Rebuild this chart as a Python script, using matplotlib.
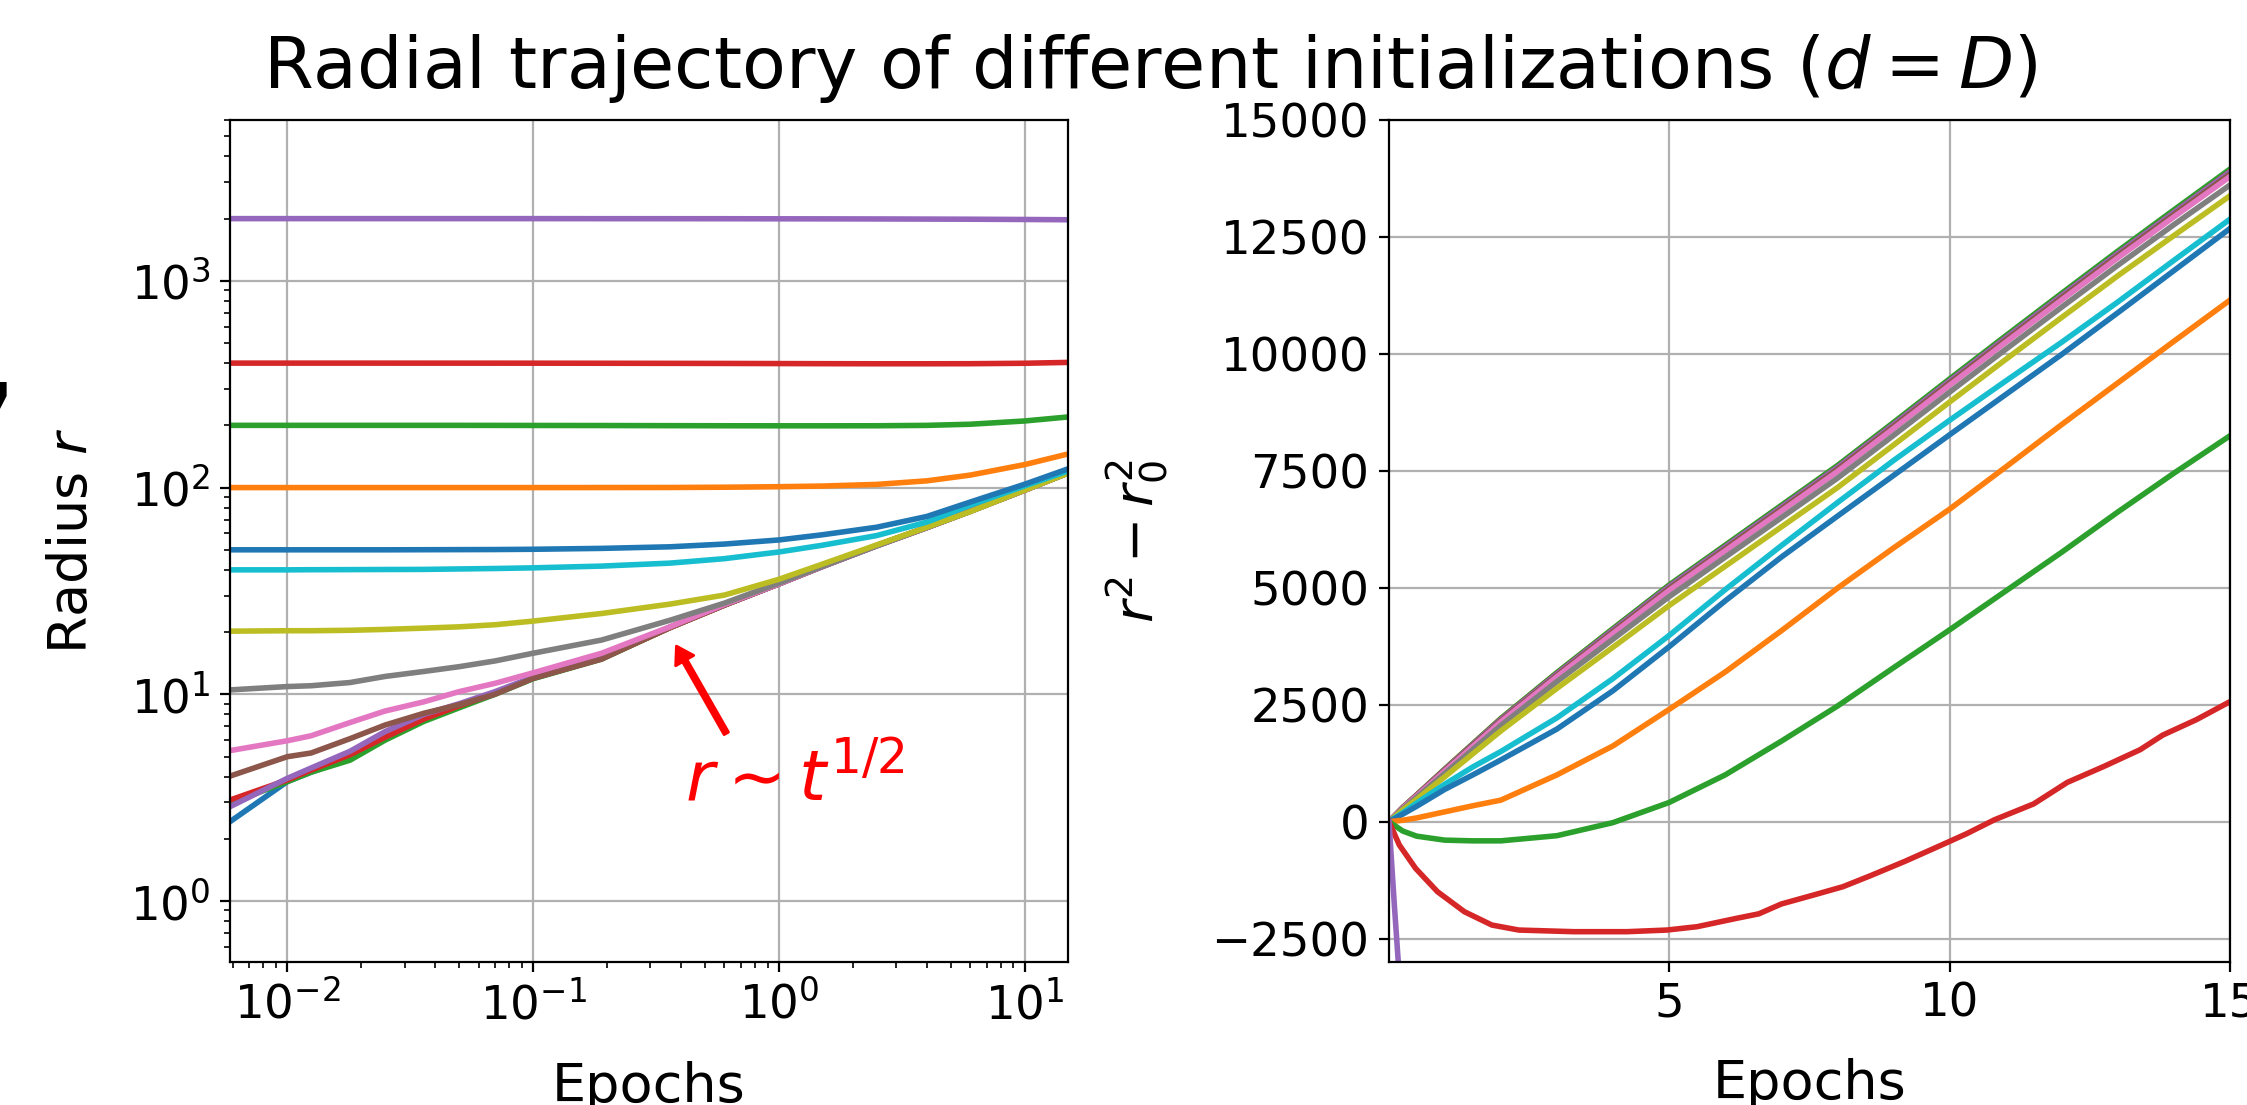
import matplotlib
matplotlib.use("Agg")
import matplotlib.pyplot as plt

# ---------------- data ----------------
# Left panel: radius r vs epochs (log-log)
t_log = [0.00585, 0.01, 0.0125, 0.018, 0.025, 0.036, 0.05, 0.07, 0.1, 0.19,
         0.36, 0.6, 1.0, 1.5, 2.5, 4.0, 6.0, 10.0, 15.0]

r_c0_small = [2.42, 3.78, 4.2, 4.9, 6.1, 7.7, 8.8, 10.1, 11.95, 14.9, 21.0, 27.0, 34.2, 41.5, 52.4, 64.1, 76.9, 97.2, 117.8]
r_c1_small = [3.02, 3.83, 4.3, 5.1, 6.2, 7.6, 8.8, 10.1, 12.0, 14.9, 21.0, 27.0, 34.3, 41.6, 52.5, 64.2, 77.0, 97.3, 118.0]
r_c2_small = [2.97, 3.78, 4.2, 4.8, 6.0, 7.4, 8.6, 10.0, 11.9, 14.8, 21.0, 27.0, 34.3, 41.6, 52.5, 64.2, 77.0, 97.4, 118.1]
r_c3_small = [3.08, 3.85, 4.3, 5.1, 6.2, 7.6, 8.8, 10.1, 12.0, 14.9, 21.0, 27.0, 34.2, 41.5, 52.4, 64.1, 76.9, 97.2, 117.9]
r_c4_small = [2.86, 3.92, 4.4, 5.3, 6.6, 8.0, 9.0, 10.3, 12.1, 15.0, 21.1, 27.1, 34.2, 41.5, 52.4, 64.1, 76.9, 97.2, 117.9]
r_brown = [4.02, 4.99, 5.2, 6.1, 7.1, 8.1, 8.9, 10.0, 11.95, 14.8, 21.1, 27.1, 34.2, 41.5, 52.4, 64.1, 76.9, 97.2, 117.8]
r_pink = [5.34, 5.96, 6.3, 7.3, 8.3, 9.2, 10.3, 11.3, 12.7, 15.8, 21.2, 27.2, 34.2, 41.4, 52.3, 64.0, 76.8, 97.1, 117.7]
r_gray = [10.5, 10.9, 11.0, 11.4, 12.2, 12.9, 13.6, 14.5, 15.8, 18.3, 22.8, 27.6, 34.5, 41.5, 52.2, 64.0, 76.6, 97.4, 117.5]
r_olive = [20.2, 20.3, 20.3, 20.4, 20.6, 20.9, 21.2, 21.7, 22.6, 24.6, 27.3, 30.2, 36.0, 42.6, 52.8, 64.3, 76.5, 97.2, 117.4]
r_cyan = [40.0, 40.0, 40.05, 40.1, 40.15, 40.2, 40.4, 40.6, 40.9, 41.7, 43.1, 45.3, 48.8, 52.6, 58.6, 68.1, 82.2, 101.9, 120.3]
r_c10_50 = [50.0, 50.0, 50.0, 50.0, 50.0, 50.05, 50.1, 50.15, 50.3, 50.8, 51.7, 53.3, 55.8, 59.1, 64.3, 72.5, 85.1, 103.8, 123.2]
r_c11_100 = [100, 100, 100, 100, 100, 100, 100, 100, 100.0, 100.05, 100.1, 100.4, 101.0, 101.7, 103.6, 107.8, 114.9, 129.2, 145.4]
r_c12_200 = [200, 200, 200, 200, 200, 200, 200, 199.9, 199.75, 199.6, 199.3, 199.1, 199.0, 198.96, 199.1, 199.95, 202.5, 210.0, 219.6]
r_c13_400 = [400, 400, 400, 400, 399.95, 399.9, 399.85, 399.8, 399.7, 399.4, 399.0, 398.6, 398.0, 397.5, 397.1, 397.1, 397.4, 399.4, 403.2]
r_c14_2000 = [2000, 2000, 2000, 2000, 2000, 2000, 2000, 2000, 2000, 1999, 1998.5, 1998, 1996, 1995, 1993, 1990, 1987, 1981, 1975]

# Right panel: r^2 - r0^2 vs epochs (linear)
t_lin = [0.00585, 0.25, 0.5, 1, 1.5, 2, 3, 4, 5, 6, 7, 8, 9, 10, 11, 12, 13, 14, 15]

d_c0_small = [0, 296, 563, 1108, 1645, 2180, 3155, 4090, 5020, 5866, 6715, 7564, 8483, 9412, 10331, 11240, 12139, 13016, 13885]
d_c1_small = [0, 300, 570, 1120, 1660, 2200, 3180, 4120, 5050, 5900, 6750, 7600, 8520, 9450, 10370, 11280, 12180, 13060, 13930]
d_c2_small = [0, 302, 573, 1124, 1665, 2206, 3187, 4128, 5059, 5910, 6761, 7612, 8533, 9464, 10385, 11296, 12197, 13078, 13950]
d_c3_small = [0, 297, 565, 1110, 1648, 2183, 3158, 4094, 5024, 5871, 6720, 7569, 8488, 9417, 10336, 11245, 12144, 13021, 13895]
d_c4_small = [0, 296, 564, 1109, 1647, 2182, 3157, 4093, 5023, 5870, 6719, 7568, 8487, 9416, 10335, 11244, 12143, 13020, 13890]
d_brown = [0, 292, 557, 1096, 1630, 2161, 3130, 4062, 4986, 5834, 6683, 7531, 8450, 9378, 10297, 11205, 12104, 12980, 13845]
d_pink = [0, 288, 548, 1080, 1608, 2135, 3098, 4023, 4943, 5790, 6638, 7485, 8403, 9330, 10248, 11155, 12053, 12928, 13790]
d_gray = [0, 272, 520, 1030, 1542, 2054, 2995, 3902, 4809, 5654, 6498, 7342, 8257, 9181, 10096, 11000, 11894, 12763, 13610]
d_olive = [0, 250, 480, 960, 1450, 1940, 2850, 3730, 4620, 5460, 6300, 7140, 8050, 8970, 9880, 10780, 11670, 12530, 13380]
d_cyan = [0, 190, 400, 800, 1170, 1500, 2220, 3060, 3980, 4960, 5900, 6820, 7720, 8580, 9420, 10250, 11110, 12000, 12880]
d_c10_50 = [0, 160, 330, 690, 1000, 1320, 1980, 2800, 3740, 4720, 5655, 6530, 7400, 8270, 9130, 9990, 10880, 11780, 12680]
d_c11_100 = [0, 30, 80, 210, 340, 460, 1000, 1620, 2400, 3200, 4080, 4990, 5850, 6680, 7580, 8490, 9380, 10270, 11150]
d_c12_200 = [0, -200, -310, -395, -410, -410, -300, -20, 410, 1000, 1720, 2470, 3290, 4100, 4930, 5760, 6620, 7450, 8250]

t_c13_400 = [0.00585, 0.19, 0.48, 0.87, 1.35, 1.84, 2.32, 3.3, 4.25, 4.96, 5.5, 6.2, 6.6, 7.0,
             7.6, 8.1, 8.6, 9.2, 9.8, 10.3, 10.8, 11.5, 12.1, 12.75, 13.4, 13.8, 14.4, 15.0]
d_c13_400 = [0, -499, -998, -1497, -1925, -2210, -2317, -2352, -2352, -2317, -2245, -2067, -1970, -1760,
             -1560, -1390, -1150, -850, -530, -260, 40, 380, 840, 1180, 1540, 1850, 2180, 2566]

t_c14_2000 = [0.00585, 0.1, 0.2, 1.0]
d_c14_2000 = [0, -1760, -3500, -15000]

colors = ['C0', 'C1', 'C2', 'C3', 'C4', 'C5', 'C6', 'C7', 'C8', 'C9',
          'C0', 'C1', 'C2', 'C3', 'C4']

left_series = [r_c0_small, r_c1_small, r_c2_small, r_c3_small, r_c4_small, r_brown, r_pink,
               r_gray, r_olive, r_cyan, r_c10_50, r_c11_100, r_c12_200, r_c13_400, r_c14_2000]
right_series = [(t_lin, d_c0_small), (t_lin, d_c1_small), (t_lin, d_c2_small), (t_lin, d_c3_small),
                (t_lin, d_c4_small), (t_lin, d_brown), (t_lin, d_pink), (t_lin, d_gray),
                (t_lin, d_olive), (t_lin, d_cyan), (t_lin, d_c10_50), (t_lin, d_c11_100),
                (t_lin, d_c12_200), (t_c13_400, d_c13_400), (t_c14_2000, d_c14_2000)]

left_xticks = [0.01, 0.1, 1, 10]
right_xticks = [5, 10, 15]
right_yticks = [-2500, 0, 2500, 5000, 7500, 10000, 12500, 15000]

# ---------------- figure ----------------
W, H, DPI = 2247, 1105, 200
fig = plt.figure(figsize=(W / DPI, H / DPI), dpi=DPI)

TICK_FS = 16.8
LABEL_FS = 19.5
TITLE_FS = 25.8
LW = 2.0

ax1 = fig.add_axes([230 / W, 1 - 962 / H, 838 / W, 842 / H])
ax2 = fig.add_axes([1389 / W, 1 - 962 / H, 841 / W, 842 / H])

for ys, c in zip(left_series, colors):
    ax1.plot(t_log, ys, color=c, lw=LW)
ax1.set_xscale('log')
ax1.set_yscale('log')
ax1.set_xlim(0.00585, 15)
ax1.set_ylim(0.507, 6000)
ax1.set_xticks(left_xticks)
ax1.grid(True, which='major', color='#b0b0b0', lw=0.8)
ax1.set_xlabel('Epochs', fontsize=LABEL_FS, labelpad=11.5)
ax1.set_ylabel('Radius $r$', fontsize=LABEL_FS, labelpad=11.5)
ax1.tick_params(axis='both', which='major', labelsize=TICK_FS)

ax1.annotate('', xy=(0.383, 17.1), xytext=(0.611, 6.47),
             arrowprops=dict(color='red', width=1.8, headwidth=7.5, headlength=6, shrink=0))
ax1.text(0.415, 3.07, r'$r \sim t^{1/2}$', color='red', fontsize=25, ha='left', va='baseline')

for (xs, ys), c in zip(right_series, colors):
    ax2.plot(xs, ys, color=c, lw=LW)
ax2.set_xlim(0.00585, 15)
ax2.set_ylim(-3000, 15000)
ax2.set_xticks(right_xticks)
ax2.set_yticks(right_yticks)
ax2.grid(True, color='#b0b0b0', lw=0.8)
ax2.set_xlabel('Epochs', fontsize=LABEL_FS, labelpad=11.5)
ax2.set_ylabel('$r^2 - r_0^2$', fontsize=LABEL_FS, labelpad=14.5)
ax2.tick_params(axis='both', which='major', labelsize=TICK_FS)

fig.text(1150 / W, 1 - 88 / H, 'Radial trajectory of different initializations ($d = D$)',
         fontsize=TITLE_FS, ha='center', va='baseline')

# cropped fragment of a neighbouring glyph at the left border
fig.text(22 / W, 1 - 403 / H, ',', fontsize=60, ha='right', va='baseline')

fig.savefig('out.png', dpi=DPI)
